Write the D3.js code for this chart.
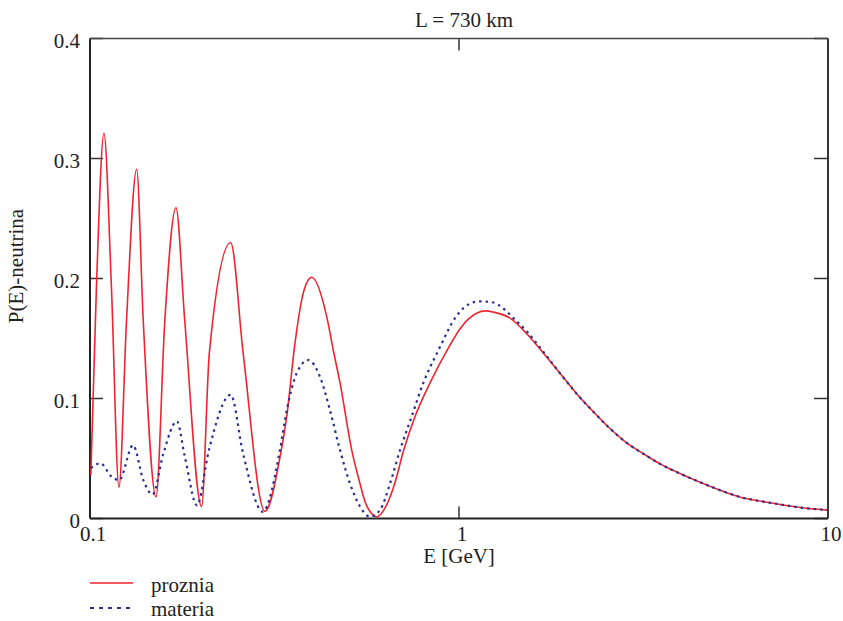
<!DOCTYPE html>
<html>
<head>
<meta charset="utf-8">
<script src="https://cdn.jsdelivr.net/npm/d3@7"></script>
<style>
	body { margin: 0; background: #fff; }
	text { font-family: "Liberation Serif", "Times New Roman", Times, serif; }
</style>
</head>
<body>
<svg id="figure_container"></svg>
<script>
// E in GeV, P(E)
var prozniaE = [0.1005, 0.1041, 0.1091, 0.1143, 0.1198, 0.1256, 0.1338, 0.1394, 0.1510, 0.1595, 0.1710, 0.1806,
	0.2006, 0.2106, 0.2406, 0.2600, 0.2980, 0.3272, 0.3413, 0.3593, 0.3785, 0.3989, 0.4382, 0.4565, 0.4760,
	0.5120, 0.5392, 0.5563, 0.5774, 0.5984, 0.6370, 0.6709, 0.7066, 0.7600, 0.8344, 0.9354, 1.006, 1.116, 1.179,
	1.239, 1.375, 1.526, 1.692, 1.878, 2.084, 2.312, 2.566, 2.848, 3.158, 3.505, 3.81, 4.69, 5.77, 7.11, 8.75, 10.0],
	prozniaP = [0.036, 0.193, 0.321, 0.193, 0.026, 0.165, 0.291, 0.165, 0.018, 0.165, 0.259, 0.165,
	0.010, 0.138, 0.230, 0.138, 0.006, 0.051, 0.085, 0.146, 0.188, 0.201, 0.168, 0.140, 0.113,
	0.057, 0.029, 0.014, 0.0047, 0.0015, 0.0115, 0.030, 0.056, 0.085, 0.113, 0.142, 0.158, 0.171, 0.173,
	0.172, 0.167, 0.154, 0.138, 0.121, 0.104, 0.089, 0.075, 0.063, 0.054, 0.0455, 0.040, 0.028, 0.018, 0.0127, 0.0085, 0.007];

var materiaE = [0.1005, 0.1067, 0.1143, 0.1200, 0.1308, 0.1395, 0.1478, 0.1580, 0.1720, 0.1806, 0.1950, 0.2100,
	0.2406, 0.2600, 0.2940, 0.3272, 0.3413, 0.3632, 0.3905, 0.4202, 0.4472, 0.4760, 0.5066, 0.5392, 0.5739,
	0.6108, 0.6502, 0.6921, 0.7444, 0.8004, 0.8787, 0.9858, 1.071, 1.140, 1.239, 1.319, 1.404, 1.526, 1.692,
	1.878, 2.084, 2.312, 2.566, 2.848, 3.158, 3.505, 3.81, 4.69, 5.77, 7.11, 8.75, 10.0],
	materiaP = [0.042, 0.046, 0.035, 0.032, 0.061, 0.032, 0.020, 0.054, 0.081, 0.052, 0.011, 0.057,
	0.103, 0.054, 0.0057, 0.057, 0.090, 0.121, 0.132, 0.118, 0.090, 0.057, 0.029, 0.010, 0.0015,
	0.007, 0.029, 0.057, 0.085, 0.113, 0.140, 0.169, 0.179, 0.181, 0.180, 0.175, 0.167, 0.156, 0.139,
	0.121, 0.104, 0.089, 0.075, 0.063, 0.054, 0.0455, 0.040, 0.028, 0.018, 0.0127, 0.0085, 0.007];

var xTicks = [0.1, 1, 10],
	yTicks = [0, 0.1, 0.2, 0.3, 0.4];

var vis = d3.select("#figure_container"),
	plotwidth = 843,
	plotheight = 621,
	mLeft = 90, mRight = 828, mTop = 38.5, mBottom = 518.5,
	fontSize = 21;

vis.attr("width", plotwidth).attr("height", plotheight);

var x = d3.scaleLog().domain([0.1, 10]).range([mLeft, mRight]),
	y = d3.scaleLinear().domain([0, 0.4]).range([mBottom, mTop]);

// inner ticks
var tickG = vis.append("g").attr("stroke", "#333").attr("stroke-width", 1.5);
yTicks.forEach(function(t){
	tickG.append("line").attr("x1", mLeft).attr("x2", mLeft + 13).attr("y1", y(t)).attr("y2", y(t));
	tickG.append("line").attr("x1", mRight - 14).attr("x2", mRight).attr("y1", y(t)).attr("y2", y(t));
});
tickG.append("line").attr("x1", x(1)).attr("x2", x(1)).attr("y1", mTop).attr("y2", mTop + 12);
tickG.append("line").attr("x1", x(1)).attr("x2", x(1)).attr("y1", mBottom - 12).attr("y2", mBottom);

// frame
vis.append("line").attr("x1", mLeft).attr("x2", mRight).attr("y1", mTop).attr("y2", mTop)
	.attr("stroke", "#444").attr("stroke-width", 1.5);
vis.append("line").attr("x1", mRight).attr("x2", mRight).attr("y1", mTop).attr("y2", mBottom)
	.attr("stroke", "#222").attr("stroke-width", 1.8);
vis.append("line").attr("x1", mLeft).attr("x2", mLeft).attr("y1", mTop).attr("y2", mBottom)
	.attr("stroke", "#222").attr("stroke-width", 2);
vis.append("line").attr("x1", mLeft).attr("x2", mRight).attr("y1", mBottom).attr("y2", mBottom)
	.attr("stroke", "#222").attr("stroke-width", 2);

// tick labels
vis.selectAll("text.ylab")
	.data(yTicks)
	.enter()
	.append("text")
	.attr("class", "ylab")
	.attr("x", 80)
	.attr("y", function(d){ return y(d) + 9.5; })
	.attr("text-anchor", "end")
	.attr("font-size", fontSize)
	.attr("fill", "#222")
	.text(function(d){ return d === 0 ? "0" : d3.format(".1f")(d); });

vis.selectAll("text.xlab")
	.data(xTicks)
	.enter()
	.append("text")
	.attr("class", "xlab")
	.attr("x", function(d){ return x(d) + 3; })
	.attr("y", 541)
	.attr("text-anchor", "middle")
	.attr("font-size", fontSize)
	.attr("fill", "#222")
	.text(function(d){ return String(d); });

vis.append("text").attr("x", 464).attr("y", 27).attr("text-anchor", "middle")
	.attr("font-size", fontSize).attr("fill", "#222").text("L = 730 km");
vis.append("text").attr("x", 459).attr("y", 563).attr("text-anchor", "middle")
	.attr("font-size", fontSize).attr("fill", "#222").text("E [GeV]");
vis.append("text").attr("transform", "translate(23,266) rotate(-90)").attr("text-anchor", "middle")
	.attr("font-size", fontSize).attr("fill", "#222").text("P(E)-neutrina");

// curves
var line = d3.line()
	.x(function(d){ return x(d[0]); })
	.y(function(d){ return y(d[1]); })
	.curve(d3.curveMonotoneX);

var plotG = vis.append("g");
plotG.append("path")
	.datum(d3.zip(prozniaE, prozniaP))
	.attr("d", line)
	.attr("fill", "none")
	.attr("stroke", "#ee2530")
	.attr("stroke-width", 1.6);
plotG.append("path")
	.datum(d3.zip(materiaE, materiaP))
	.attr("d", line)
	.attr("fill", "none")
	.attr("stroke", "#2b2f8f")
	.attr("stroke-width", 2.2)
	.attr("stroke-dasharray", "2.5,4");

// legend
vis.append("line").attr("x1", 90).attr("x2", 133).attr("y1", 583).attr("y2", 583)
	.attr("stroke", "#ee2530").attr("stroke-width", 1.6);
vis.append("text").attr("x", 151).attr("y", 592).attr("font-size", fontSize).attr("fill", "#222").text("proznia");
vis.append("line").attr("x1", 90).attr("x2", 133).attr("y1", 608).attr("y2", 608)
	.attr("stroke", "#2b2f8f").attr("stroke-width", 2.2).attr("stroke-dasharray", "4,5");
vis.append("text").attr("x", 151).attr("y", 616).attr("font-size", fontSize).attr("fill", "#222").text("materia");
</script>
</body>
</html>
